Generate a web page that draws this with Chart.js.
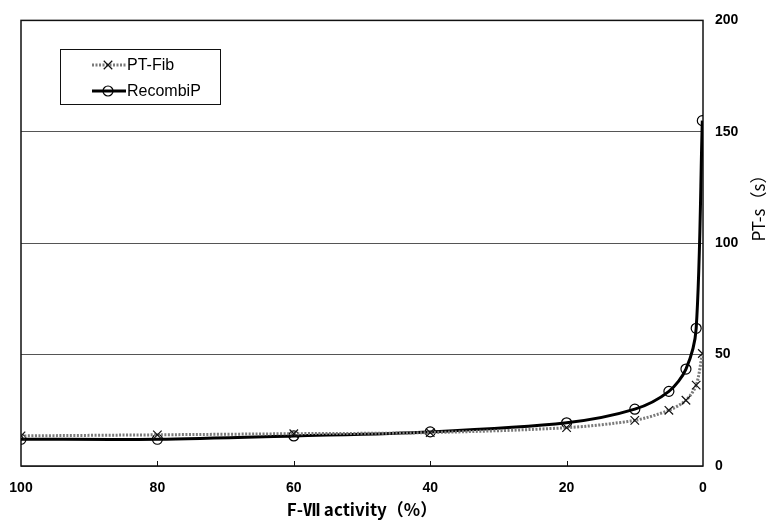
<!DOCTYPE html>
<html>
<head>
<meta charset="utf-8">
<script src="https://cdn.jsdelivr.net/npm/chart.js@4/dist/chart.umd.min.js"></script>
<style>
html,body{margin:0;padding:0;background:#fff;}
#pt_chart{display:block;}
</style>
</head>
<body>
<canvas id="pt_chart" width="767" height="520"></canvas>
<script>
// values
var activity = [100, 80, 60, 40, 20, 10, 5, 2.5, 1, 0.1];
var pt_fib = [13.5, 14, 14.5, 15, 17.2, 20.5, 25, 29.5, 36.3, 50.5];
var recombip = [12, 12, 13.5, 15.3, 19.4, 25.5, 33.5, 43.5, 61.8, 155];
var x_ticks = [100, 80, 60, 40, 20, 0];
var y_ticks = [0, 50, 100, 150, 200];
var x_title = 'F-Ⅶ activity（%）';
var y_title = 'PT-s（s）';

var fib_points = [];
var recombi_points = [];
for (var i = 0; i < activity.length; i++)
{
	fib_points.push({x: activity[i], y: pt_fib[i]});
	recombi_points.push({x: activity[i], y: recombip[i]});
}

var tick_font = {family: '"Liberation Sans", Arial, sans-serif', size: 14, weight: 'bold'};

//frame, inner ticks, y title
var pt_frame_plugin = {
	id: 'pt_frame',
	beforeDatasetsDraw: function(chart)
	{
		var c = chart.ctx, a = chart.chartArea, xs = chart.scales.x;
		c.save();
		c.strokeStyle = '#111';
		c.lineWidth = 1.5;
		c.strokeRect(a.left, a.top, a.right - a.left, a.bottom - a.top);
		c.lineWidth = 1;
		xs.ticks.forEach(function(t)
		{
			if (t.value == 0 || t.value == 100) return;
			var px = Math.round(xs.getPixelForValue(t.value)) + 0.5;
			c.beginPath();
			c.moveTo(px, a.bottom);
			c.lineTo(px, a.bottom - 5);
			c.stroke();
		});
		c.restore();
	},
	afterDraw: function(chart)
	{
		var c = chart.ctx;
		c.save();
		c.translate(759, 204);
		c.rotate(-Math.PI / 2);
		c.fillStyle = '#000';
		c.font = '17px "Noto Sans CJK JP", "Liberation Sans", sans-serif';
		c.textAlign = 'center';
		c.textBaseline = 'middle';
		c.fillText(y_title, 0, 0);
		c.restore();
	}
};

//legend box with line samples
var pt_legend_plugin = {
	id: 'pt_legend',
	afterDatasetsDraw: function(chart)
	{
		var c = chart.ctx;
		var bx = 60, by = 49, bw = 160, bh = 55;
		c.save();
		c.fillStyle = '#fff';
		c.fillRect(bx, by, bw, bh);
		c.strokeStyle = '#111';
		c.lineWidth = 1;
		c.strokeRect(bx + 0.5, by + 0.5, bw, bh);
		var rows = [65, 91];
		chart.data.datasets.forEach(function(ds, k)
		{
			var y = rows[k];
			c.save();
			c.strokeStyle = ds.borderColor;
			c.lineWidth = ds.borderWidth;
			c.setLineDash(ds.borderDash || []);
			c.beginPath();
			c.moveTo(92, y);
			c.lineTo(126, y);
			c.stroke();
			c.restore();
			c.fillStyle = '#fff';
			c.strokeStyle = ds.pointBorderColor;
			c.lineWidth = ds.pointBorderWidth;
			if (ds.pointStyle == 'circle')
			{
				c.beginPath();
				c.arc(108, y, ds.pointRadius, 0, Math.PI * 2);
				c.stroke();
			}
			else
				Chart.helpers.drawPoint(c, {pointStyle: ds.pointStyle, radius: ds.pointRadius, borderWidth: ds.pointBorderWidth}, 108, y);
			c.fillStyle = '#000';
			c.font = '16px "Liberation Sans", Arial, sans-serif';
			c.textAlign = 'left';
			c.textBaseline = 'middle';
			c.fillText(ds.label, 127, y + 1);
		});
		c.restore();
	}
};

var ctx = document.getElementById('pt_chart').getContext('2d');
var pt_chart = new Chart(ctx, {
	type: 'scatter',
	data: {
		datasets: [
			{
				label: 'PT-Fib',
				data: fib_points,
				showLine: true,
				borderColor: '#7a7a7a',
				borderWidth: 3,
				borderDash: [2, 1.5],
				tension: 0.3,
				pointStyle: 'crossRot',
				pointRadius: 6,
				pointBorderColor: '#111',
				pointBorderWidth: 1.2,
				pointBackgroundColor: 'rgba(0,0,0,0)'
			},
			{
				label: 'RecombiP',
				data: recombi_points,
				showLine: true,
				borderColor: '#000',
				borderWidth: 3,
				tension: 0.3,
				pointStyle: 'circle',
				pointRadius: 5,
				pointBorderColor: '#000',
				pointBorderWidth: 1.2,
				pointBackgroundColor: 'rgba(0,0,0,0)'
			}
		]
	},
	options: {
		responsive: false,
		animation: false,
		layout: {padding: {left: 21, top: 19, right: 0, bottom: 0}},
		plugins: {legend: {display: false}, tooltip: {enabled: false}},
		scales: {
			x: {
				type: 'linear',
				reverse: true,
				min: 0,
				max: 100,
				afterBuildTicks: function(s) { s.ticks = x_ticks.map(function(v) { return {value: v}; }); },
				afterFit: function(s) { s.height = 54; },
				grid: {display: false},
				border: {display: false},
				ticks: {color: '#000', font: tick_font, padding: 6, maxRotation: 0},
				title: {
					display: true,
					text: x_title,
					color: '#000',
					font: {family: '"Noto Sans CJK JP", "Liberation Sans", sans-serif', size: 17, weight: 'bold'},
					padding: {top: 0, bottom: 0}
				}
			},
			y: {
				position: 'right',
				min: 0,
				max: 200,
				afterBuildTicks: function(s) { s.ticks = y_ticks.map(function(v) { return {value: v}; }); },
				afterFit: function(s) { s.width = 64; },
				grid: {color: '#555', lineWidth: 1, drawTicks: false},
				border: {display: false},
				ticks: {color: '#000', font: tick_font, padding: 12}
			}
		}
	},
	plugins: [pt_frame_plugin, pt_legend_plugin]
});
</script>
</body>
</html>
